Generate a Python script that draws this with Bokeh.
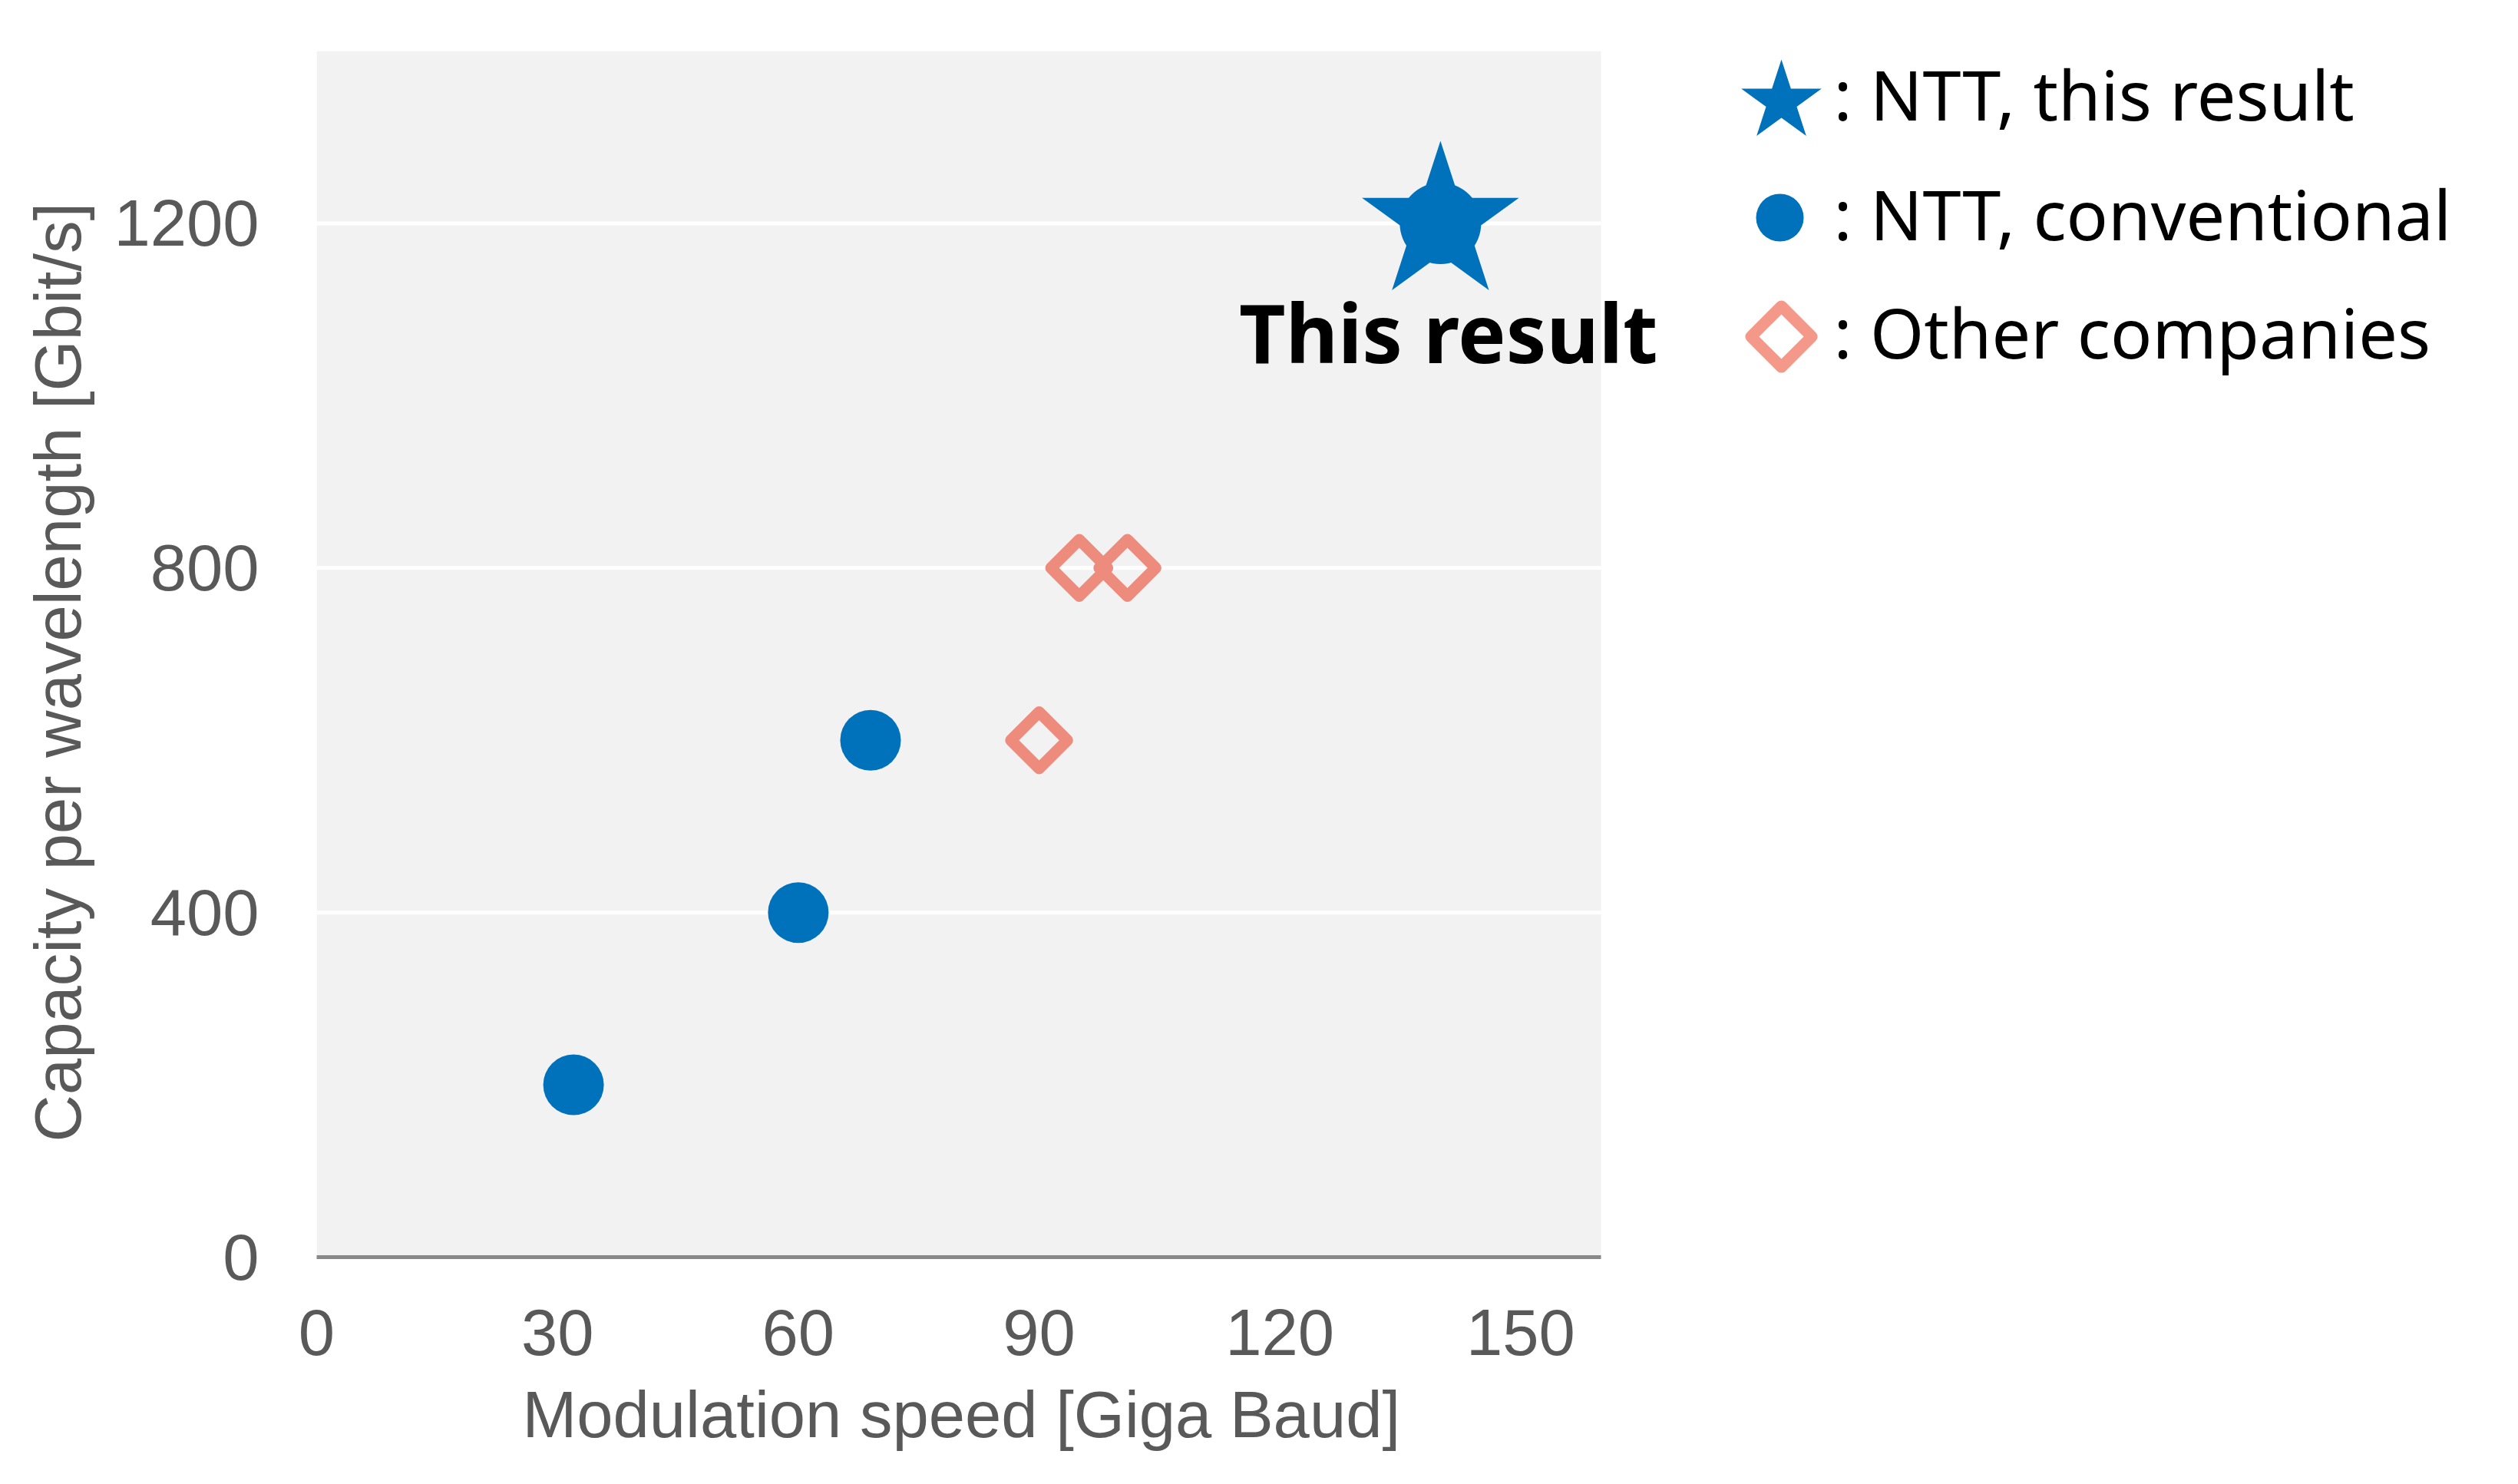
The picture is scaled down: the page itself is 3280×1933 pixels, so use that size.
from bokeh.plotting import figure
from bokeh.models import Range1d, FixedTicker, BoxAnnotation, Title
from bokeh.embed import file_html
from bokeh.resources import INLINE
from bokeh.core.properties import value
import math

# ---------------- data ----------------
conv_speed = [32, 60, 69]          # NTT, conventional
conv_capacity = [200, 400, 600]
other_speed = [90, 95, 101]        # Other companies
other_capacity = [600, 800, 800]
this_speed = [140]                 # NTT, this result
this_capacity = [1200]

x_ticks = [0, 30, 60, 90, 120, 150]
y_ticks = [0, 400, 800, 1200]
grid_ticks = [400, 800, 1200]
X_MIN, X_MAX = 0, 160
Y_MIN, Y_MAX = 0, 1400
x_label = "Modulation speed [Giga Baud]"
y_label = "Capacity per wavelength [Gbit/s]"
legend_labels = [": NTT, this result", ": NTT, conventional", ": Other companies"]
annotation_text = ["This result"]

# ---------------- style / layout ----------------
BLUE = "#0071BB"
SALMON = "#ED8B7C"
SALMON_LEGEND = "#F4998A"
GREY_TEXT = "#595959"

W = 3264
H = 1916
FRAME_L, FRAME_T, FRAME_B = 412, 66, 1637
PLOT_R = 2085                      # right edge of grey plot area (px)
frame_w = W - FRAME_L
x_end = X_MAX * frame_w / (PLOT_R - FRAME_L)

p = figure(width=W, height=H,
           x_range=Range1d(X_MIN, x_end), y_range=Range1d(Y_MIN, Y_MAX),
           output_backend="svg", toolbar_location=None,
           min_border_left=FRAME_L, min_border_right=0,
           min_border_top=FRAME_T, min_border_bottom=H - FRAME_B)
p.background_fill_color = "white"
p.border_fill_color = "white"
p.outline_line_color = None
p.grid.visible = False

# pixel-space ranges for the legend panel
p.extra_x_ranges = {"px": Range1d(FRAME_L, W)}
p.extra_y_ranges = {"px": Range1d(FRAME_B, FRAME_T)}

p.add_layout(BoxAnnotation(left=X_MIN, right=X_MAX, bottom=Y_MIN, top=Y_MAX,
                           fill_color="#F2F2F2", fill_alpha=1.0,
                           line_color=None, level="underlay"))

p.xaxis.ticker = FixedTicker(ticks=x_ticks)
p.yaxis.ticker = FixedTicker(ticks=y_ticks)
p.xaxis.bounds = (X_MIN, X_MAX)
p.yaxis.bounds = (Y_MIN, Y_MAX)

for ax in (p.xaxis, p.yaxis):
    ax.major_tick_line_color = None
    ax.minor_tick_line_color = None
    ax.major_tick_out = 0
    ax.major_tick_in = 0
    ax.minor_tick_out = 0
    ax.major_label_text_font = "Liberation Sans"
    ax.major_label_text_font_size = "85px"
    ax.major_label_text_color = GREY_TEXT

p.xaxis.axis_line_color = "#898989"
p.xaxis.axis_line_width = 5
p.yaxis.axis_line_color = None
p.xaxis.major_label_standoff = 68
p.yaxis.major_label_standoff = 75

# axis titles, aligned on the grey plot area (not the whole frame)
x_title = Title(text=x_label, align="left", offset=268, standoff=50,
                text_font="Liberation Sans", text_font_size="85px",
                text_font_style="normal", text_color=GREY_TEXT)
p.add_layout(x_title, "below")
y_title = Title(text=y_label, align="left", offset=150, standoff=45,
                text_font="Liberation Sans", text_font_size="85px",
                text_font_style="normal", text_color=GREY_TEXT)
p.add_layout(y_title, "left")

# white horizontal gridlines across the plot area only
p.segment(x0=[X_MIN] * len(grid_ticks), y0=grid_ticks,
          x1=[X_MAX] * len(grid_ticks), y1=grid_ticks,
          line_color="white", line_width=5)

# conventional
p.scatter(conv_speed, conv_capacity, marker="circle", size=79,
          fill_color=BLUE, line_color=None)
# other companies
p.scatter(other_speed, other_capacity, marker="square", size=52, angle=math.pi / 4,
          fill_alpha=0, line_color=SALMON, line_width=15, line_join="round")
# this result
p.scatter(this_speed, this_capacity, marker="circle", size=106,
          fill_color=BLUE, line_color=None)
p.scatter(this_speed, this_capacity, marker="star", size=215,
          fill_color=BLUE, line_color=None)

p.text(x=[141], y=[1074], text=annotation_text,
       text_font=value("Noto Sans"), text_font_style="bold",
       text_font_size="105px", text_color="black",
       text_align="center", text_baseline="alphabetic")

# ---------------- legend (pixel coordinates) ----------------
legend_marker_x = [2320, 2318, 2320]
legend_marker_y = [132, 283, 438]
legend_text_x = [2388, 2388, 2388]
legend_text_y = [121, 277, 431]

p.scatter([legend_marker_x[0]], [legend_marker_y[0]], marker="star", size=110,
          fill_color=BLUE, line_color=None, x_range_name="px", y_range_name="px")
p.scatter([legend_marker_x[1]], [legend_marker_y[1]], marker="circle", size=62,
          fill_color=BLUE, line_color=None, x_range_name="px", y_range_name="px")
p.scatter([legend_marker_x[2]], [legend_marker_y[2]], marker="square", size=56,
          angle=math.pi / 4, fill_alpha=0, line_color=SALMON_LEGEND,
          line_width=15, line_join="round", x_range_name="px", y_range_name="px")
p.text(x=legend_text_x, y=legend_text_y, text=legend_labels,
       text_font=value("Noto Sans"), text_font_size="90px",
       text_color="black", text_baseline="alphabetic", text_align="left",
       x_range_name="px", y_range_name="px")

open("out.html", "w").write(file_html(p, INLINE))
